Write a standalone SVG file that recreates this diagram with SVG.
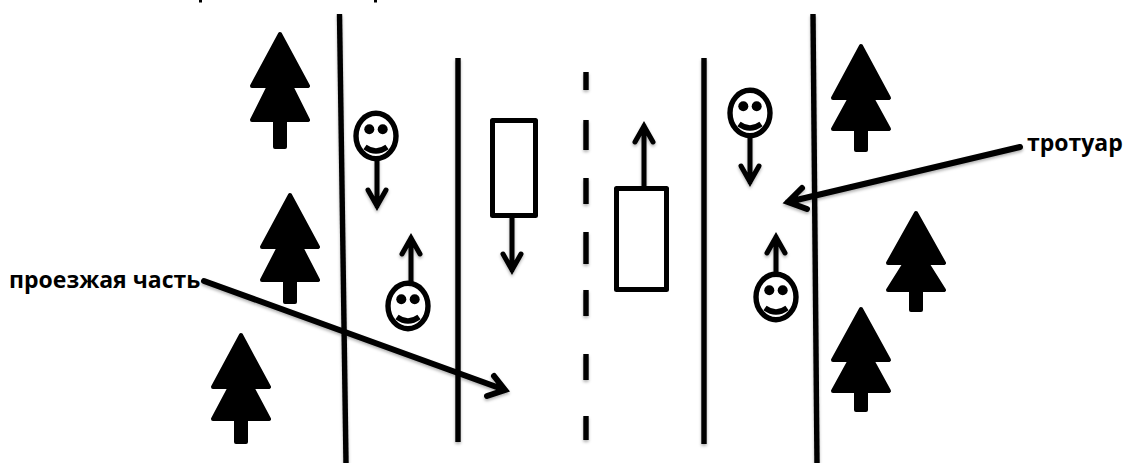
<svg xmlns="http://www.w3.org/2000/svg" width="1127" height="463" viewBox="0 0 1127 463">
<style>
.l{fill:none;stroke:#000;stroke-width:5.4;stroke-linecap:butt}
.a{fill:none;stroke:#000;stroke-width:5;stroke-linecap:round;stroke-linejoin:miter;stroke-miterlimit:6}
.b{stroke-width:6}
.t{fill:#000;stroke:#000;stroke-width:4;stroke-linejoin:round}
.f{fill:#fff;stroke:#000;stroke-width:5;stroke-linejoin:round}
.s{fill:none;stroke:#000;stroke-width:5.4}
text{font-family:"Open Sans","Liberation Sans",sans-serif;font-weight:700;font-size:23px;fill:#000}
</style>
<defs>
<filter id="sh" x="-5%" y="-5%" width="110%" height="110%"><feDropShadow dx="0" dy="2" stdDeviation="1.5" flood-color="#000" flood-opacity="0.3"/></filter>
<g id="face"><ellipse class="s" cx="0" cy="0" rx="20" ry="22.7"/><circle cx="-6.7" cy="-6.7" r="5"/><circle cx="6.7" cy="-6.7" r="5"/><path class="s" d="M-11 11Q0 19 11 11"/></g>
</defs>
<g id="top-marks"><rect x="199" y="0" width="3" height="2.5"/><rect x="374" y="0" width="3" height="2.5"/></g>
<g id="connectors" filter="url(#sh)">
<path class="l" d="M339.5 14L346 463"/><path class="l" d="M458 58V442"/>
<path class="l" d="M586 72V90M586 120V150M586 178V204M586 232V264M586 290V316M586 354V380M586 416V440"/>
<path class="l" d="M704 58V444"/><path class="l" d="M813 14L817 463"/>
<path class="a" d="M377 161V206M368 190L377 206L386 190"/>
<path class="a" d="M411 282V238M402 254L411 238L420 254"/>
<path class="a" d="M512 217V270M503 254L512 270L521 254"/>
<path class="a" d="M644 187V126M635 142L644 126L653 142"/>
<path class="a" d="M750 137V182M741 166L750 182L759 166"/>
<path class="a" d="M776 272V237M767 253L776 237L785 253"/>
<path class="a b" d="M204 281L505 390M494 376L505 390L487 396"/>
<path class="a b" d="M1020 147L788 202M802 188L788 202L807 209"/>
</g>
<g id="tree1"><path class="t" transform="translate(280,32)" d="M0 2L28 54H11L28 88H5V115H-5V88H-28L-11 54H-28Z"/></g>
<g id="tree2"><path class="t" transform="translate(290,193)" d="M0 2L28 54H11L28 87H5V109H-5V87H-28L-11 54H-28Z"/></g>
<g id="tree3"><path class="t" transform="translate(241,333)" d="M0 2L28 54H11L28 86H5V109H-5V86H-28L-11 54H-28Z"/></g>
<g id="tree4"><path class="t" transform="translate(861,44)" d="M0 2L28 54H11L28 85H5V106H-5V85H-28L-11 54H-28Z"/></g>
<g id="tree5"><path class="t" transform="translate(916,211)" d="M0 2L28 52H11L28 79H5V99H-5V79H-28L-11 52H-28Z"/></g>
<g id="tree6"><path class="t" transform="translate(861,307)" d="M0 2L28 53H11L28 84H5V103H-5V84H-28L-11 53H-28Z"/></g>
<g id="p1"><use href="#face" x="376" y="136"/></g>
<g id="p2"><use href="#face" x="408" y="306"/></g>
<g id="p3"><use href="#face" x="750" y="113"/></g>
<g id="p4"><use href="#face" x="776" y="297"/></g>
<g id="car1"><rect class="f" x="492.5" y="120.5" width="43" height="95"/></g>
<g id="car2"><rect class="f" x="616.5" y="188.5" width="50" height="101"/></g>
<g id="labels">
<text x="9" y="288">проезжая часть</text>
<text x="1027" y="151">тротуар</text>
</g>
</svg>
